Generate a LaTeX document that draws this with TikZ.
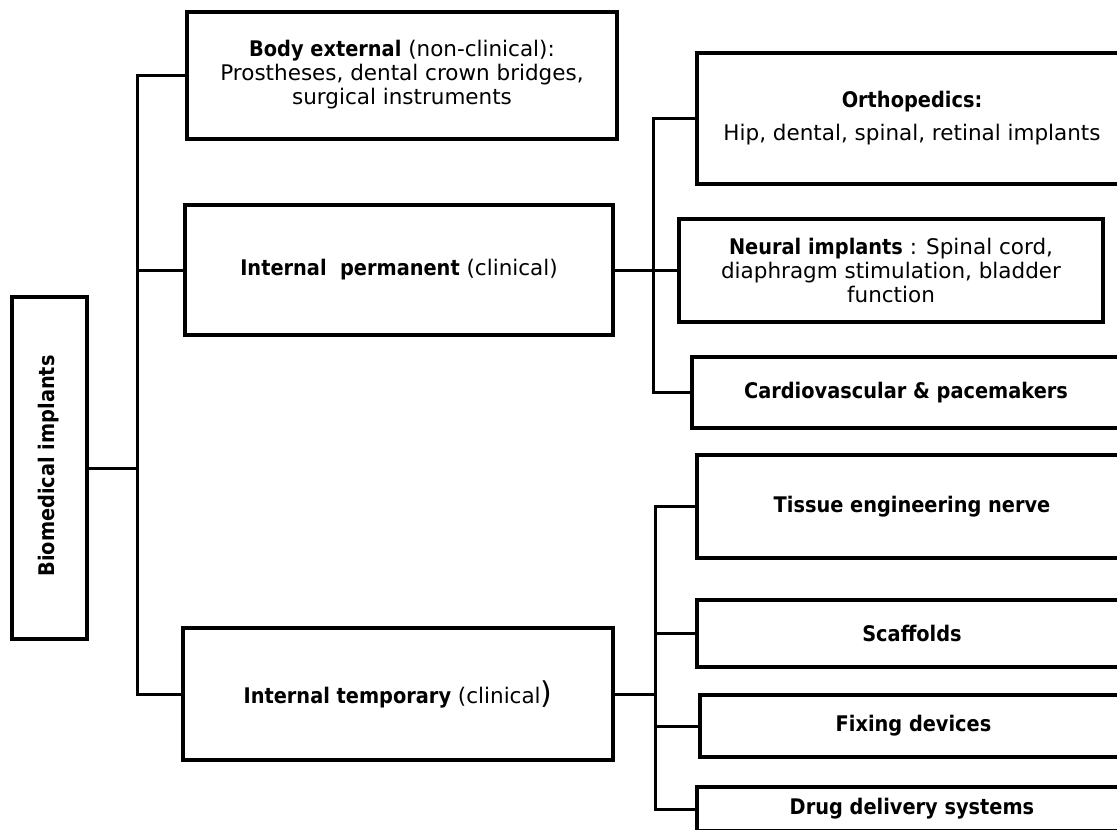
\documentclass[tikz,border=0pt]{standalone}
\usepackage{fontspec}
\setmainfont{DejaVu Sans}[BoldFeatures={FakeStretch=0.9}]
\begin{document}
\begin{tikzpicture}[x=1pt,y=-1pt,
  box/.style={draw=black, line width=4pt, inner sep=0pt, outer sep=0pt, align=center,
    font=\fontsize{21.5}{24}\selectfont},
  conn/.style={draw=black, line width=3pt}]
\useasboundingbox (0,0) rectangle (1117,830);
\clip (0,0) rectangle (1117,830);
% root
\node[box, minimum width=75pt, minimum height=342pt] (root) at (49.5,468) {};
\node[rotate=90, font=\fontsize{21.5}{24}\selectfont\bfseries] (roottxt) at (49,466) {Biomedical implants};
% level 1
\node[box, minimum width=430pt, minimum height=127pt] (be) at (402,75)
  {\textbf{Body external} (non-clinical):\\ Prostheses, dental crown bridges,\\ surgical instruments};
\node[box, minimum width=428pt, minimum height=130pt] (ip) at (399,270)
  {\textbf{Internal\ \ permanent} (clinical)};
\node[box, minimum width=430pt, minimum height=132pt] (it) at (398,694)
  {\textbf{Internal temporary} (clinical{\fontsize{30}{30}\selectfont)}};
% level 2 upper
\node[box, minimum width=430pt, minimum height=131pt] (ortho) at (912,118.5)
  {\textbf{Orthopedics:}\\[9pt] Hip, dental, spinal, retinal implants};
\node[box, minimum width=424pt, minimum height=103pt] (neural) at (891,270)
  {\textbf{Neural implants} : Spinal cord,\\ diaphragm stimulation, bladder\\ function};
\node[box, minimum width=428pt, minimum height=71pt] (cardio) at (906,392.5)
  {\textbf{Cardiovascular \& pacemakers}};
% level 2 lower
\node[box, minimum width=430pt, minimum height=103pt] (tissue) at (912,506.5)
  {\textbf{Tissue engineering nerve}};
\node[box, minimum width=430pt, minimum height=67pt] (scaff) at (912,633.5)
  {\textbf{Scaffolds}};
\node[box, minimum width=427pt, minimum height=62pt] (fix) at (913.5,726)
  {\textbf{Fixing devices}};
\node[box, minimum width=430pt, minimum height=44pt] (drug) at (912,809)
  {\textbf{Drug delivery systems}};
% junctions
\coordinate (j1) at (137,468);
\coordinate (j2) at (653,270);
\coordinate (j3) at (655,694);
% connectors
\draw[conn] (root.east) -- (j1);
\draw[conn] (be.west) -| (j1) |- (it.west);
\draw[conn] (ip.west) -- (ip.west -| j1);
\draw[conn] (ortho.west) -| (j2) |- (cardio.west);
\draw[conn] (ip.east) -- (j2) -- (neural.west);
\draw[conn] (tissue.west) -| (j3) |- (drug.west);
\draw[conn] (it.east) -- (j3);
\draw[conn] (scaff.west) -- (scaff.west -| j3);
\draw[conn] (fix.west) -- (fix.west -| j3);
\end{tikzpicture}
\end{document}
